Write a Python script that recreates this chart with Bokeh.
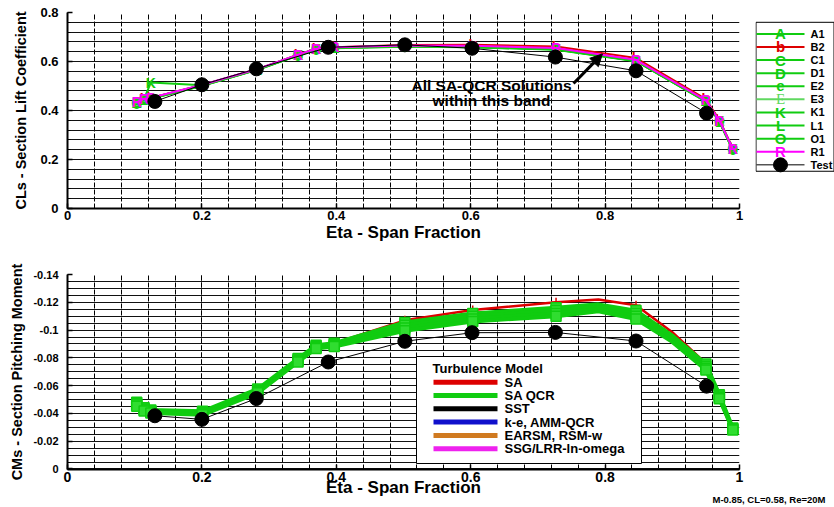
from bokeh.plotting import figure
from bokeh.layouts import column, row
from bokeh.models import (Range1d, SingleIntervalTicker, CustomJSTickFormatter, AllLabels,
                          Label, Arrow, NormalHead, Title)
from bokeh.core.properties import value
from bokeh.embed import file_html
from bokeh.resources import INLINE

FONT = "Liberation Sans"
SERIF = "Liberation Serif"
GREEN = "#10cc10"
LGREEN = "#60d860"
RED = "#dd0000"
MAGENTA = "#ff00ff"

# ---------------- data ----------------
eta_cfd = [0.103, 0.114, 0.124, 0.201, 0.283, 0.343, 0.370, 0.397, 0.502, 0.603, 0.727, 0.846, 0.950, 0.970, 0.990]
eta_test = [0.130, 0.200, 0.281, 0.388, 0.502, 0.602, 0.726, 0.846, 0.951]

cl_test = [0.437, 0.505, 0.570, 0.658, 0.668, 0.654, 0.618, 0.562, 0.389]
cl_A1 = [0.430, 0.445, 0.450, 0.503, 0.568, 0.626, 0.650, 0.656, 0.662, 0.660, 0.650, 0.603, 0.438, 0.356, 0.242]
cl_B2 = [0.432, 0.446, 0.451, 0.504, 0.569, 0.628, 0.652, 0.658, 0.667, 0.668, 0.661, 0.614, 0.446, 0.362, 0.246]
cl_C1 = [0.429, 0.444, 0.449, 0.502, 0.567, 0.625, 0.649, 0.655, 0.661, 0.659, 0.649, 0.602, 0.437, 0.355, 0.241]
cl_D1 = [0.431, 0.446, 0.451, 0.504, 0.569, 0.627, 0.651, 0.657, 0.663, 0.661, 0.652, 0.605, 0.440, 0.357, 0.243]
cl_E2 = [0.428, 0.443, 0.448, 0.501, 0.566, 0.624, 0.648, 0.654, 0.660, 0.658, 0.648, 0.601, 0.436, 0.354, 0.240]
cl_E3 = [0.430, 0.445, 0.450, 0.503, 0.568, 0.626, 0.650, 0.656, 0.662, 0.661, 0.651, 0.604, 0.439, 0.356, 0.242]
cl_K1 = [0.436, 0.447, 0.514, 0.503, 0.568, 0.627, 0.651, 0.657, 0.663, 0.661, 0.651, 0.604, 0.439, 0.357, 0.243]
cl_L1 = [0.429, 0.444, 0.449, 0.502, 0.567, 0.625, 0.650, 0.656, 0.662, 0.660, 0.650, 0.603, 0.438, 0.355, 0.241]
cl_O1 = [0.431, 0.445, 0.450, 0.503, 0.568, 0.626, 0.651, 0.657, 0.663, 0.661, 0.651, 0.604, 0.439, 0.356, 0.242]
cl_R1 = [0.434, 0.448, 0.452, 0.505, 0.570, 0.628, 0.652, 0.658, 0.665, 0.664, 0.655, 0.607, 0.441, 0.359, 0.244]

cl_names = ["A1", "B2", "C1", "D1", "E2", "E3", "K1", "L1", "O1", "R1"]
cl_letters = ["A", "b", "C", "D", "e", "E", "K", "L", "O", "R"]
cl_values = [cl_A1, cl_B2, cl_C1, cl_D1, cl_E2, cl_E3, cl_K1, cl_L1, cl_O1, cl_R1]
cl_colors = [GREEN, RED, GREEN, GREEN, GREEN, LGREEN, GREEN, GREEN, GREEN, MAGENTA]

eta_line = [0.103, 0.114, 0.124, 0.201, 0.283, 0.343, 0.370, 0.397, 0.502, 0.603, 0.727, 0.790, 0.846, 0.900, 0.950, 0.970, 0.990]
cm_test = [-0.0383, -0.0357, -0.0507, -0.0770, -0.0919, -0.0981, -0.0983, -0.0921, -0.0596]
cm_SA = [-0.0455, -0.0420, -0.0400, -0.0395, -0.0560, -0.0790, -0.0890, -0.0905, -0.1070, -0.1145, -0.1200, -0.1220, -0.1178, -0.0985, -0.0760, -0.0530, -0.0290]
cm_QCR_1 = [-0.0480, -0.0440, -0.0425, -0.0415, -0.0575, -0.0795, -0.0890, -0.0905, -0.1055, -0.1120, -0.1160, -0.1185, -0.1140, -0.0960, -0.0755, -0.0535, -0.0295]
cm_QCR_2 = [-0.0470, -0.0432, -0.0418, -0.0405, -0.0565, -0.0785, -0.0882, -0.0897, -0.1035, -0.1100, -0.1140, -0.1170, -0.1120, -0.0945, -0.0740, -0.0525, -0.0290]
cm_QCR_3 = [-0.0460, -0.0425, -0.0410, -0.0398, -0.0556, -0.0778, -0.0875, -0.0890, -0.1015, -0.1080, -0.1120, -0.1150, -0.1100, -0.0930, -0.0725, -0.0515, -0.0285]
cm_QCR_4 = [-0.0452, -0.0418, -0.0402, -0.0390, -0.0548, -0.0770, -0.0868, -0.0882, -0.0995, -0.1062, -0.1100, -0.1135, -0.1080, -0.0915, -0.0712, -0.0505, -0.0280]

tm_names = ["SA", "SA QCR", "SST", "k-e, AMM-QCR", "EARSM, RSM-w", "SSG/LRR-ln-omega"]
tm_colors = [RED, GREEN, "black", "#1010cc", "#d07a20", "#ee22ee"]

footnote = "M-0.85, CL=0.58, Re=20M"

fmt = CustomJSTickFormatter(code="return (Math.round(tick*1000)/1000).toString();")
# the CM axis grows upward with nose-down (negative) moment: plotted as -CM, labelled as CM
fmt_neg = CustomJSTickFormatter(
    code="const v = Math.round(tick*1000)/1000; return v == 0 ? '0' : (-v).toString();")


def style(p, xt, yt, ysize, xsize, yfmt):
    p.outline_line_color = None
    for ax in (p.xaxis[0], p.yaxis[0]):
        ax.axis_line_width = 2
        ax.axis_line_color = "black"
        ax.major_tick_in = 5
        ax.major_tick_out = 0
        ax.minor_tick_in = 3
        ax.minor_tick_out = 0
        ax.major_tick_line_width = 1.5
        ax.major_label_text_font = FONT
        ax.major_label_text_font_style = "bold"
        ax.major_label_text_color = "black"
        ax.axis_label_text_font = FONT
        ax.axis_label_text_font_style = "bold"
        ax.axis_label_text_color = "black"
        ax.major_label_policy = AllLabels()
    p.xaxis[0].formatter = fmt
    p.yaxis[0].formatter = yfmt
    p.xaxis[0].ticker = xt
    p.yaxis[0].ticker = yt
    p.xgrid[0].ticker = xt
    p.ygrid[0].ticker = yt
    p.xaxis[0].major_label_text_font_size = xsize
    p.yaxis[0].major_label_text_font_size = ysize
    p.xaxis[0].axis_label_text_font_size = "17px"
    p.yaxis[0].axis_label_text_font_size = "14.5px"
    p.xaxis[0].major_label_standoff = 2
    p.xaxis[0].axis_label_standoff = 0
    p.yaxis[0].major_label_standoff = 9
    p.yaxis[0].axis_label_standoff = 8
    g = p.xgrid[0]
    g.grid_line_color = "black"
    g.grid_line_dash = "5 2"
    g.minor_grid_line_color = "black"
    g.minor_grid_line_dash = "5 2"
    g = p.ygrid[0]
    g.grid_line_color = "#111111"
    g.minor_grid_line_color = "#111111"


# ---------------- top: CL ----------------
p1 = figure(width=755, height=250, x_range=Range1d(0, 1), y_range=Range1d(0, 0.8),
            output_backend="svg", toolbar_location=None,
            min_border_left=67, min_border_right=16, min_border_top=12, min_border_bottom=42,
            x_axis_label="Eta - Span Fraction", y_axis_label="CLs - Section Lift Coefficient")
style(p1, SingleIntervalTicker(interval=0.2, num_minor_ticks=5),
      SingleIntervalTicker(interval=0.2, num_minor_ticks=5), "13px", "13px", fmt)

for letter, vals, col in zip(cl_letters, cl_values, cl_colors):
    p1.line(eta_cfd, vals, line_color=col, line_width=2)
    serif = letter == "E"
    p1.text(eta_cfd, vals, text=value(letter), text_color=col,
            text_font=value(SERIF if serif else FONT),
            text_font_style="normal" if serif else "bold", text_font_size="14px",
            text_align="center", text_baseline="middle")

p1.line(eta_test, cl_test, line_color="black", line_width=1)
p1.scatter(eta_test, cl_test, size=14, fill_color="black", line_color="black")

p1.add_layout(Label(x=0.631, y=0.502, text="All SA-QCR Solutions", text_font=FONT,
                    text_font_style="bold", text_font_size="15.5px", text_align="center",
                    text_baseline="middle", text_color="black"))
p1.add_layout(Label(x=0.631, y=0.441, text="within this band", text_font=FONT,
                    text_font_style="bold", text_font_size="15.5px", text_align="center",
                    text_baseline="middle", text_color="black"))
p1.add_layout(Arrow(end=NormalHead(size=12, fill_color="black", line_color="black"),
                    x_start=0.753, y_start=0.510, x_end=0.796, y_end=0.631,
                    line_width=3, line_color="black"))

# legend panel for the top chart (own figure, pixel-like coordinate space)
lg = figure(width=79, height=250, x_range=Range1d(755, 834), y_range=Range1d(250, 0),
            x_axis_type=None, y_axis_type=None, output_backend="svg", toolbar_location=None,
            min_border_left=0, min_border_right=0, min_border_top=0, min_border_bottom=0)
lg.outline_line_color = None
LG_LEFT, LG_RIGHT, LG_TOP, LG_BOTTOM = 755.5, 833.5, 12.5, 202.5
LG_G0, LG_G1, LG_LBL, LG_Y0, LG_DY = 756, 804, 810, 27.3, 16.7
lg.quad(left=[LG_LEFT], right=[LG_RIGHT], top=[LG_TOP], bottom=[LG_BOTTOM],
        fill_color="white", line_color="black", line_width=1)
lg_names = cl_names + ["Test"]
for i, name in enumerate(lg_names):
    yy = LG_Y0 + LG_DY * i
    if name == "Test":
        lg.segment(x0=[LG_G0], y0=[yy], x1=[LG_G1], y1=[yy], line_color="black", line_width=1)
        lg.scatter([(LG_G0 + LG_G1) / 2], [yy], size=14, fill_color="black", line_color="black")
    else:
        col = cl_colors[i]
        letter = cl_letters[i]
        serif = letter == "E"
        lg.segment(x0=[LG_G0], y0=[yy], x1=[LG_G1], y1=[yy], line_color=col, line_width=2)
        lg.text([(LG_G0 + LG_G1) / 2], [yy], text=value(letter), text_color=col,
                text_font=value(SERIF if serif else FONT),
                text_font_style="normal" if serif else "bold", text_font_size="15px",
                text_align="center", text_baseline="middle")
    lg.text([LG_LBL], [yy], text=value(name), text_color="black", text_font=value(FONT),
            text_font_style="bold", text_font_size="11px", text_align="left",
            text_baseline="middle")

# ---------------- bottom: CM ----------------
FX0, FW, FY1, FH, CM_LOW, CM_SPAN = 67, 672, 469, 195, -0.0004, 0.14
p2 = figure(width=834, height=257, x_range=Range1d(0, 1), y_range=Range1d(CM_LOW, CM_SPAN),
            output_backend="svg", toolbar_location=None,
            min_border_left=FX0, min_border_right=95, min_border_top=24, min_border_bottom=38,
            x_axis_label="Eta - Span Fraction", y_axis_label="CMs - Section Pitching Moment")
style(p2, SingleIntervalTicker(interval=0.2, num_minor_ticks=5),
      SingleIntervalTicker(interval=0.02, num_minor_ticks=4), "11px", "14px", fmt_neg)
p2.yaxis[0].axis_label_standoff = 5
p2.xaxis[0].axis_label_standoff = -7


def neg(vals):
    return [-v for v in vals]


def at_stations(vals):
    pts = [(e, v) for e, v in zip(eta_line, vals) if e in eta_cfd]
    return [a for a, _ in pts], [b for _, b in pts]


xs, ys = at_stations(cm_SA)
p2.line(eta_line, neg(cm_SA), line_color=RED, line_width=2.5)
p2.scatter(xs, neg(ys), marker="cross", size=9, line_color=RED, line_width=1.5)
for vals in (cm_QCR_1, cm_QCR_2, cm_QCR_3, cm_QCR_4):
    p2.line(eta_line, neg(vals), line_color=GREEN, line_width=4)
    xs, ys = at_stations(vals)
    p2.scatter(xs, neg(ys), marker="square", size=10, fill_color="#30dd30", line_color=GREEN,
               line_width=1.5)
p2.line(eta_test, neg(cm_test), line_color="black", line_width=1)
p2.scatter(eta_test, neg(cm_test), size=14, fill_color="black", line_color="black")


# turbulence-model key, laid out in pixels and mapped into the chart's coordinates
def kx(px):
    return (px - FX0) / FW


def ky(py):
    return CM_LOW + (FY1 - py) / FH * (CM_SPAN - CM_LOW)


K_LEFT, K_RIGHT, K_TOP, K_BOTTOM = 416, 641, 356, 463
K_TITLE_X, K_TITLE_Y, K_G0, K_G1, K_LBL, K_Y0, K_DY = 432, 368, 433, 497, 504, 381.7, 13.3
p2.quad(left=[kx(K_LEFT)], right=[kx(K_RIGHT)], top=[ky(K_TOP)], bottom=[ky(K_BOTTOM)],
        fill_color="white", line_color="black", line_width=1)
p2.text([kx(K_TITLE_X)], [ky(K_TITLE_Y)], text=value("Turbulence Model"),
        text_font=value(FONT), text_font_style="bold", text_font_size="13px",
        text_align="left", text_baseline="middle", text_color="black")
for i, (name, col) in enumerate(zip(tm_names, tm_colors)):
    yy = ky(K_Y0 + K_DY * i)
    p2.segment(x0=[kx(K_G0)], y0=[yy], x1=[kx(K_G1)], y1=[yy], line_color=col, line_width=5)
    p2.text([kx(K_LBL)], [yy], text=value(name), text_font=value(FONT),
            text_font_style="bold", text_font_size="13px", text_align="left",
            text_baseline="middle", text_color="black")

p2.add_layout(Title(text=footnote, align="right", vertical_align="top", offset=-86,
                    standoff=-12, text_font=FONT, text_font_style="bold",
                    text_font_size="9.5px", text_color="black"), "below")

layout = column(row(p1, lg, spacing=0), p2, spacing=0)
open("out.html", "w").write(file_html(layout, INLINE))
